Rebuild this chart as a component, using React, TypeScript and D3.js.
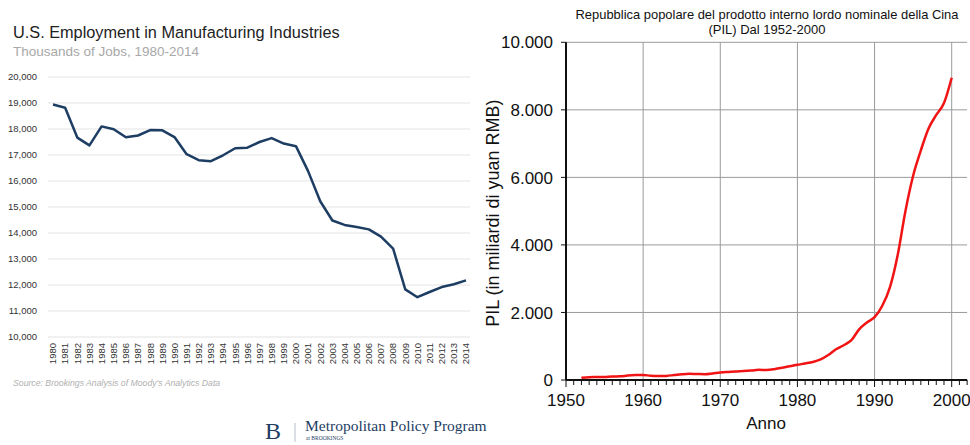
import { useEffect, useRef } from "react";
import * as d3 from "d3";

// US manufacturing employment (thousands), 1980-2014
const mfgYears = d3.range(1980, 2015).map(String);
const mfgJobs = [
  18940, 18820, 17670, 17370, 18100, 17990, 17680, 17750, 17960, 17950,
  17690, 17030, 16800, 16760, 16990, 17260, 17280, 17500, 17650, 17440,
  17340, 16380, 15220, 14480, 14310, 14230, 14140, 13860, 13400, 11830,
  11530, 11730, 11920, 12030, 12180,
];
const mfgTicks = d3.range(10000, 20001, 1000);

// China nominal GDP (billion yuan), 1952-2000
const gdpYears = d3.range(1952, 2001);
const gdpValues = [
  70, 85, 88, 92, 105, 108, 130, 145, 150, 125,
  118, 122, 145, 170, 185, 178, 172, 195, 225, 240,
  250, 270, 280, 300, 295, 320, 365, 405, 450, 490,
  535, 610, 740, 910, 1030, 1180, 1500, 1700, 1860, 2200,
  2750, 3700, 5000, 6050, 6800, 7450, 7850, 8200, 8950,
];
const gdpTicks = [0, 2000, 4000, 6000, 8000, 10000];
const gdpYearTicks = [1950, 1960, 1970, 1980, 1990, 2000];

const itFormat = d3.formatLocale({
  decimal: ",",
  thousands: ".",
  grouping: [3],
  currency: ["", ""],
}).format(",");

export default function App() {
  const svgRef = useRef<SVGSVGElement>(null);

  useEffect(() => {
    if (!svgRef.current) return;
    const svg = d3.select(svgRef.current);
    svg.selectAll("*").remove();

    svg.append("rect").attr("width", 970).attr("height", 445).attr("fill", "#fff");

    // ---------- left chart ----------
    const left = svg.append("g").style("font-family", "'Liberation Sans', Arial, sans-serif");

    left.append("text")
      .attr("x", 13).attr("y", 38)
      .attr("fill", "#222").style("font-size", "16.3px")
      .text("U.S. Employment in Manufacturing Industries");
    left.append("text")
      .attr("x", 13).attr("y", 56)
      .attr("fill", "#a8a8a8").style("font-size", "13.5px")
      .text("Thousands of Jobs, 1980-2014");

    const lx = d3.scalePoint<string>().domain(mfgYears).range([53, 466]);
    const ly = d3.scaleLinear().domain([10000, 20000]).range([337, 77]);

    left.append("g")
      .selectAll("line")
      .data(mfgTicks)
      .join("line")
      .attr("x1", 48).attr("x2", 470)
      .attr("y1", (d) => ly(d)).attr("y2", (d) => ly(d))
      .attr("stroke", "#e3e3e3").attr("stroke-width", 1);

    left.append("g")
      .selectAll("text")
      .data(mfgTicks)
      .join("text")
      .attr("x", 37).attr("y", (d) => ly(d)).attr("dy", "0.35em")
      .attr("text-anchor", "end").attr("fill", "#333")
      .style("font-size", "9.5px")
      .text((d) => d3.format(",")(d));

    left.append("g")
      .selectAll("text")
      .data(mfgYears)
      .join("text")
      .attr("transform", (d) => `translate(${lx(d)},343) rotate(-90)`)
      .attr("dy", "0.35em")
      .attr("text-anchor", "end").attr("fill", "#333")
      .style("font-size", "9.5px")
      .text((d) => d);

    const mfgLine = d3.line<number>()
      .x((_, i) => lx(mfgYears[i]) ?? 0)
      .y((d) => ly(d));
    left.append("path")
      .datum(mfgJobs)
      .attr("d", mfgLine)
      .attr("fill", "none").attr("stroke", "#1d3d63")
      .attr("stroke-width", 2.5).attr("stroke-linejoin", "round");

    left.append("text")
      .attr("x", 13).attr("y", 386)
      .attr("fill", "#b0b0b0").style("font-size", "8.7px").style("font-style", "italic")
      .text("Source: Brookings Analysis of Moody's Analytics Data");

    // logo
    const logo = svg.append("g").style("font-family", "'Liberation Serif', 'DejaVu Serif', serif").attr("fill", "#1d3d63");
    logo.append("text").attr("x", 265).attr("y", 439).style("font-size", "24px").text("B");
    logo.append("line").attr("x1", 295).attr("x2", 295).attr("y1", 423).attr("y2", 442)
      .attr("stroke", "#b8c0cc").attr("stroke-width", 1);
    logo.append("text").attr("x", 305).attr("y", 431).style("font-size", "15.5px").text("Metropolitan Policy Program");
    logo.append("text").attr("x", 306).attr("y", 440).style("font-size", "5.5px").text("at BROOKINGS");

    // ---------- right chart ----------
    const right = svg.append("g").style("font-family", "'Liberation Sans', Arial, sans-serif");
    const rx = d3.scaleLinear().domain([1950, 2000]).range([566, 951.7]);
    const ry = d3.scaleLinear().domain([0, 10000]).range([380, 42.3]);
    const xEnd = rx(2002);

    right.append("text")
      .attr("x", 767).attr("y", 19)
      .attr("text-anchor", "middle").attr("fill", "#111")
      .style("font-size", "13px")
      .attr("textLength", 383).attr("lengthAdjust", "spacingAndGlyphs")
      .text("Repubblica popolare del prodotto interno lordo nominale della Cina");
    right.append("text")
      .attr("x", 767).attr("y", 34)
      .attr("text-anchor", "middle").attr("fill", "#111")
      .style("font-size", "13px")
      .text("(PIL) Dal 1952-2000");

    // grid
    right.append("g")
      .selectAll("line")
      .data(gdpTicks.filter((d) => d > 0))
      .join("line")
      .attr("x1", rx(1950)).attr("x2", xEnd)
      .attr("y1", (d) => ry(d)).attr("y2", (d) => ry(d))
      .attr("stroke", "#9a9a9a").attr("stroke-width", 1);
    right.append("g")
      .selectAll("line")
      .data(gdpYearTicks.filter((d) => d > 1950))
      .join("line")
      .attr("x1", (d) => rx(d)).attr("x2", (d) => rx(d))
      .attr("y1", ry(10000)).attr("y2", ry(0))
      .attr("stroke", "#9a9a9a").attr("stroke-width", 1);

    // x axis
    const xAxis = right.append("g").attr("transform", `translate(0,${ry(0)})`);
    xAxis.append("line").attr("x1", rx(1950)).attr("x2", xEnd)
      .attr("stroke", "#111").attr("stroke-width", 2);
    xAxis.selectAll("line.minor")
      .data(d3.range(1950, 2003))
      .join("line")
      .attr("class", "minor")
      .attr("x1", (d) => rx(d)).attr("x2", (d) => rx(d))
      .attr("y1", 0).attr("y2", (d) => (d % 10 === 0 ? 7 : 5))
      .attr("stroke", "#111").attr("stroke-width", 1);
    xAxis.selectAll("text")
      .data(gdpYearTicks)
      .join("text")
      .attr("x", (d) => rx(d)).attr("y", 26)
      .attr("text-anchor", "middle").attr("fill", "#111")
      .style("font-size", "17px")
      .text((d) => d);

    // y axis
    const yAxis = right.append("g");
    yAxis.append("line").attr("x1", rx(1950)).attr("x2", rx(1950))
      .attr("y1", ry(10000)).attr("y2", ry(0))
      .attr("stroke", "#111").attr("stroke-width", 2);
    yAxis.selectAll("line.tick")
      .data(gdpTicks)
      .join("line")
      .attr("class", "tick")
      .attr("x1", rx(1950) - 5).attr("x2", rx(1950))
      .attr("y1", (d) => ry(d)).attr("y2", (d) => ry(d))
      .attr("stroke", "#111").attr("stroke-width", 1);
    yAxis.selectAll("text")
      .data(gdpTicks)
      .join("text")
      .attr("x", 553).attr("y", (d) => ry(d)).attr("dy", "0.36em")
      .attr("text-anchor", "end").attr("fill", "#111")
      .style("font-size", "17px")
      .text((d) => itFormat(d));

    right.append("text")
      .attr("x", 766).attr("y", 429)
      .attr("text-anchor", "middle").attr("fill", "#111")
      .style("font-size", "17px")
      .text("Anno");
    right.append("text")
      .attr("transform", `translate(499,${(ry(0) + ry(10000)) / 2 + 2}) rotate(-90)`)
      .attr("text-anchor", "middle").attr("fill", "#111")
      .style("font-size", "18px")
      .text("PIL (in miliardi di yuan RMB)");

    const gdpLine = d3.line<number>()
      .x((_, i) => rx(gdpYears[i]))
      .y((d) => ry(d))
      .curve(d3.curveMonotoneX);
    right.append("path")
      .datum(gdpValues)
      .attr("d", gdpLine)
      .attr("fill", "none").attr("stroke", "#f01414")
      .attr("stroke-width", 2.5).attr("stroke-linejoin", "round");
  }, []);

  return (
    <svg
      ref={svgRef}
      width={970}
      height={445}
      style={{ position: "absolute", left: 0, top: 0, display: "block" }}
    />
  );
}
